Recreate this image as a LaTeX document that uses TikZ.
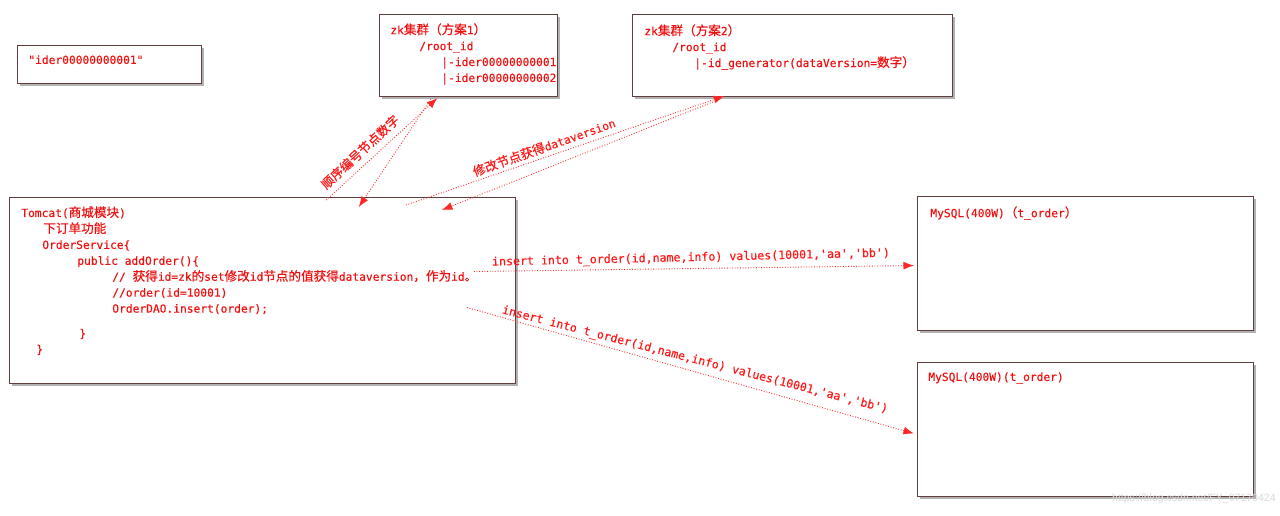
\documentclass[tikz,border=0pt]{standalone}
\usepackage{fontspec}
\setmainfont{DejaVu Sans}
\setsansfont{Liberation Sans}
\setmonofont{DejaVu Sans Mono}[FakeBold=0.35]
\newfontfamily\zhfont{Noto Sans CJK SC}[Scale=1.12,FakeBold=0.45]
\newcommand{\zh}[1]{{\zhfont #1}}
\usetikzlibrary{calc,shadows,arrows.meta}
\definecolor{codered}{RGB}{240,16,16}
\definecolor{boxline}{RGB}{96,62,62}

\begin{document}
\begin{tikzpicture}[x=0.02cm, y=-0.02cm,
        box/.style={draw=boxline, line width=0.6pt, fill=white, rectangle, inner sep=0pt, anchor=north west,
            drop shadow={shadow xshift=1.5pt, shadow yshift=-1.5pt, fill=black, opacity=0.3}},
        code/.style={anchor=north west, inner sep=0pt, align=left, text=codered,
            font=\ttfamily\fontsize{6.4}{9.07}\selectfont},
        link/.style={draw=red!85, densely dotted, line width=0.5pt, -{Latex[length=6pt,width=4.5pt]}},
        tag/.style={inner sep=0pt, text=red!90, font=\ttfamily\fontsize{6.4}{8}\selectfont},
        sqltag/.style={inner sep=0pt, text=red!90, font=\ttfamily\fontsize{6.6}{8}\selectfont}]

        \fill [white] (0,0) rectangle (1280,515);
        \useasboundingbox (0,0) rectangle (1280,515);

        %% boites
        \node [box, minimum width=3.68cm, minimum height=0.76cm] (ider) at (17,45) {};
        \node [box, minimum width=3.56cm, minimum height=1.64cm] (zka) at (379,14) {};
        \node [box, minimum width=6.4cm, minimum height=1.64cm] (zkb) at (632,14) {};
        \node [box, minimum width=10.12cm, minimum height=3.72cm] (tomcat) at (9,197) {};
        \node [box, minimum width=6.72cm, minimum height=2.68cm] (mysqla) at (917,196) {};
        \node [box, minimum width=6.72cm, minimum height=2.68cm] (mysqlb) at (917,362) {};

        %% textes des boites
        \node [code] (idertext) at ([shift={(11,10)}]ider.north west) {"ider00000000001"};

        \node [code] (zkatext) at ([shift={(11,9)}]zka.north west) {zk\zh{集群（方案}1\zh{）}\\
            \hspace*{0.58cm}/root\_id\\
            \hspace*{1.02cm}|-ider00000000001\\
            \hspace*{1.02cm}|-ider00000000002};

        \node [code] (zkbtext) at ([shift={(12,10)}]zkb.north west) {zk\zh{集群（方案}2\zh{）}\\
            \hspace*{0.56cm}/root\_id\\
            \hspace*{1cm}|-id\_generator(dataVersion=\zh{数字）}};

        \node [code] (tomcattext) at ([shift={(12,9)}]tomcat.north west) {Tomcat(\zh{商城模块})\\
            \hspace*{0.44cm}\zh{下订单功能}\\
            \hspace*{0.42cm}OrderService\{\\
            \hspace*{1.12cm}public addOrder()\{\\
            \hspace*{1.82cm}// \zh{获得}id=zk\zh{的}set\zh{修改}id\zh{节点的值获得}dataversion\zh{，作为}id\zh{。}\\
            \hspace*{1.82cm}//order(id=10001)\\
            \hspace*{1.82cm}OrderDAO.insert(order);\\[5pt]
            \hspace*{1.16cm}\}\\
            \hspace*{0.3cm}\}};

        \node [code] (mysqlatext) at ([shift={(13,10)}]mysqla.north west) {MySQL(400W)\zh{（}t\_order\zh{）}};
        \node [code] (mysqlbtext) at ([shift={(11,10)}]mysqlb.north west) {MySQL(400W)(t\_order)};

        %% liaisons zk
        \draw [link] ($(tomcat.north west)!0.626!(tomcat.north east)+(0,3)$) -- ($(zka.south west)!0.326!(zka.south east)+(0,1)$);
        \draw [link] ($(zka.south west)!0.29!(zka.south east)+(0,2)$) -- ($(tomcat.north west)!0.69!(tomcat.north east)+(0,10)$);
        \draw [link] ($(tomcat.north west)!0.783!(tomcat.north east)+(0,8)$) -- ($(zkb.south west)!0.2875!(zkb.south east)+(0,-1)$);
        \draw [link] ($(zkb.south west)!0.275!(zkb.south east)+(0,2)$) -- ($(tomcat.north west)!0.854!(tomcat.north east)+(0,13)$);
        \node [tag, rotate=43] (seqtag) at (360,152) {\zh{顺序编号节点数字}};
        \node [tag, rotate=19.5] (vertag) at (544,147) {\zh{修改节点获得}dataversion};

        %% liaisons mysql
        \draw [link] ($(tomcat.east)+(-42,-19)$) -- ($(mysqla.west)+(-3,2)$);
        \draw [link] ($(tomcat.east)+(-49,17)$) -- ($(mysqlb.west)+(-3,4)$);
        \node [sqltag, rotate=1.3] (inserta) at (691,258) {insert into t\_order(id,name,info) values(10001,'aa','bb')};
        \node [sqltag, rotate=-14.5] (insertb) at (695,360) {insert into t\_order(id,name,info) values(10001,'aa','bb')};

        \node [anchor=east, inner sep=0pt, text=gray!30, font=\sffamily\fontsize{6}{7}\selectfont] (mark) at (1276,499) {https://blog.csdn.net/FY\_07170424};

\end{tikzpicture}
\end{document}
